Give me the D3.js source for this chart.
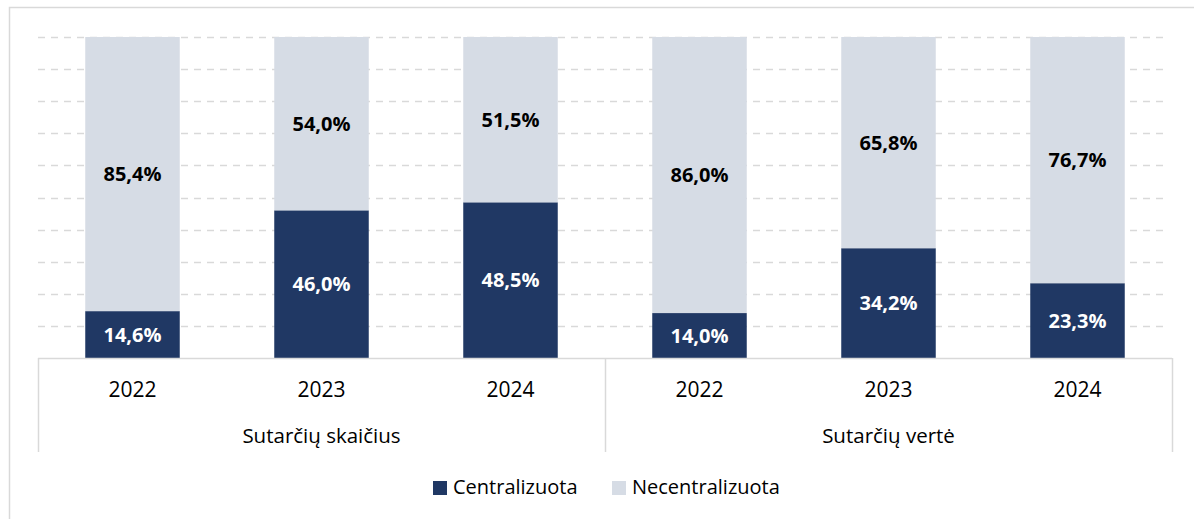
<!DOCTYPE html>
<html>
<head>
<meta charset="utf-8">
<script src="https://cdn.jsdelivr.net/npm/d3@7"></script>
<style>
  body { margin: 0; background: #fff; }
  svg text { font-family: "Open Sans", "Noto Sans", sans-serif; }
</style>
</head>
<body>
<div id="chart"></div>
<script>
var width = 1194, height = 519;

// data
const groups = ["Sutarčių skaičius", "Sutarčių vertė"];
const years = ["2022", "2023", "2024"];
const centralizuota = [14.6, 46.0, 48.5, 14.0, 34.2, 23.3];
const necentralizuota = [85.4, 54.0, 51.5, 86.0, 65.8, 76.7];
const seriesNames = ["Centralizuota", "Necentralizuota"];
const gridTicks = [10, 20, 30, 40, 50, 60, 70, 80, 90, 100];

const colors = ["#203864", "#D6DCE5"];
const fmt = v => v.toFixed(1).replace(".", ",") + "%";

var rows = [];
groups.forEach((g, gi) => {
  years.forEach((y, yi) => {
    let i = gi * years.length + yi;
    rows.push({ key: g + "|" + y, group: g, year: y, c: centralizuota[i], n: necentralizuota[i] });
  });
});

var svg = d3.select("#chart").append("svg")
  .attr("width", width)
  .attr("height", height);

// outer frame
svg.append("rect")
  .attr("x", 9.5).attr("y", 7.5)
  .attr("width", 1200).attr("height", 530)
  .attr("fill", "none").attr("stroke", "#d9d9d9").attr("stroke-width", 1.5);

var plotLeft = 38, plotRight = 1172, plotTop = 37, plotBottom = 358;

var x = d3.scaleBand().domain(rows.map(d => d.key)).range([plotLeft, plotRight]).paddingInner(0.5).paddingOuter(0.25);
var y = d3.scaleLinear().domain([0, 100]).range([plotBottom, plotTop]);

// dashed gridlines
svg.append("g").selectAll("line.grid")
  .data(gridTicks)
  .enter().append("line")
  .attr("class", "grid")
  .attr("x1", plotLeft).attr("x2", 1167)
  .attr("y1", d => Math.round(y(d)) + 0.5).attr("y2", d => Math.round(y(d)) + 0.5)
  .attr("stroke", "#d9d9d9").attr("stroke-width", 1.5)
  .attr("stroke-dasharray", "7,6");

var stack = d3.stack().keys(["c", "n"])(rows);

var layers = svg.append("g").selectAll("g.layer")
  .data(stack)
  .enter().append("g")
  .attr("fill", (d, i) => colors[i]);

layers.selectAll("rect")
  .data(d => d)
  .enter().append("rect")
  .attr("x", d => x(d.data.key))
  .attr("width", x.bandwidth())
  .attr("y", d => y(d[1]))
  .attr("height", d => y(d[0]) - y(d[1]));

layers.selectAll("text")
  .data(d => d)
  .enter().append("text")
  .attr("x", d => x(d.data.key) + x.bandwidth() / 2)
  .attr("y", d => (y(d[0]) + y(d[1])) / 2 + 7)
  .attr("text-anchor", "middle")
  .attr("font-size", "20px")
  .attr("font-weight", "bold")
  .attr("fill", function () { return d3.select(this.parentNode).datum().key == "c" ? "#fff" : "#000"; })
  .text(d => fmt(d[1] - d[0]));

// category axis box
var groupWidth = (plotRight - plotLeft) / groups.length;
var axisG = svg.append("g").attr("stroke", "#d9d9d9").attr("stroke-width", 1.5);
axisG.append("line").attr("x1", plotLeft).attr("x2", plotRight).attr("y1", plotBottom + 0.5).attr("y2", plotBottom + 0.5);
d3.range(groups.length + 1).forEach(i => {
  let xx = Math.round(plotLeft + i * groupWidth) + 0.5;
  axisG.append("line").attr("x1", xx).attr("x2", xx).attr("y1", plotBottom).attr("y2", 452);
});

svg.append("g").selectAll("text.year")
  .data(rows)
  .enter().append("text")
  .attr("x", d => x(d.key) + x.bandwidth() / 2)
  .attr("y", 397)
  .attr("text-anchor", "middle")
  .attr("font-size", "21px")
  .attr("fill", "#000")
  .text(d => d.year);

svg.append("g").selectAll("text.group")
  .data(groups)
  .enter().append("text")
  .attr("x", (d, i) => plotLeft + (i + 0.5) * groupWidth)
  .attr("y", 443)
  .attr("text-anchor", "middle")
  .attr("font-size", "20.5px")
  .attr("fill", "#000")
  .text(d => d);

// legend
var legendX = [433, 612];
var legend = svg.append("g").selectAll("g.legend")
  .data(seriesNames)
  .enter().append("g")
  .attr("transform", (d, i) => "translate(" + legendX[i] + ",481)");
legend.append("rect").attr("width", 14).attr("height", 14).attr("fill", (d, i) => colors[i]);
legend.append("text").attr("x", 20).attr("y", 13).attr("font-size", "20px").attr("fill", "#000").text(d => d);
</script>
</body>
</html>
